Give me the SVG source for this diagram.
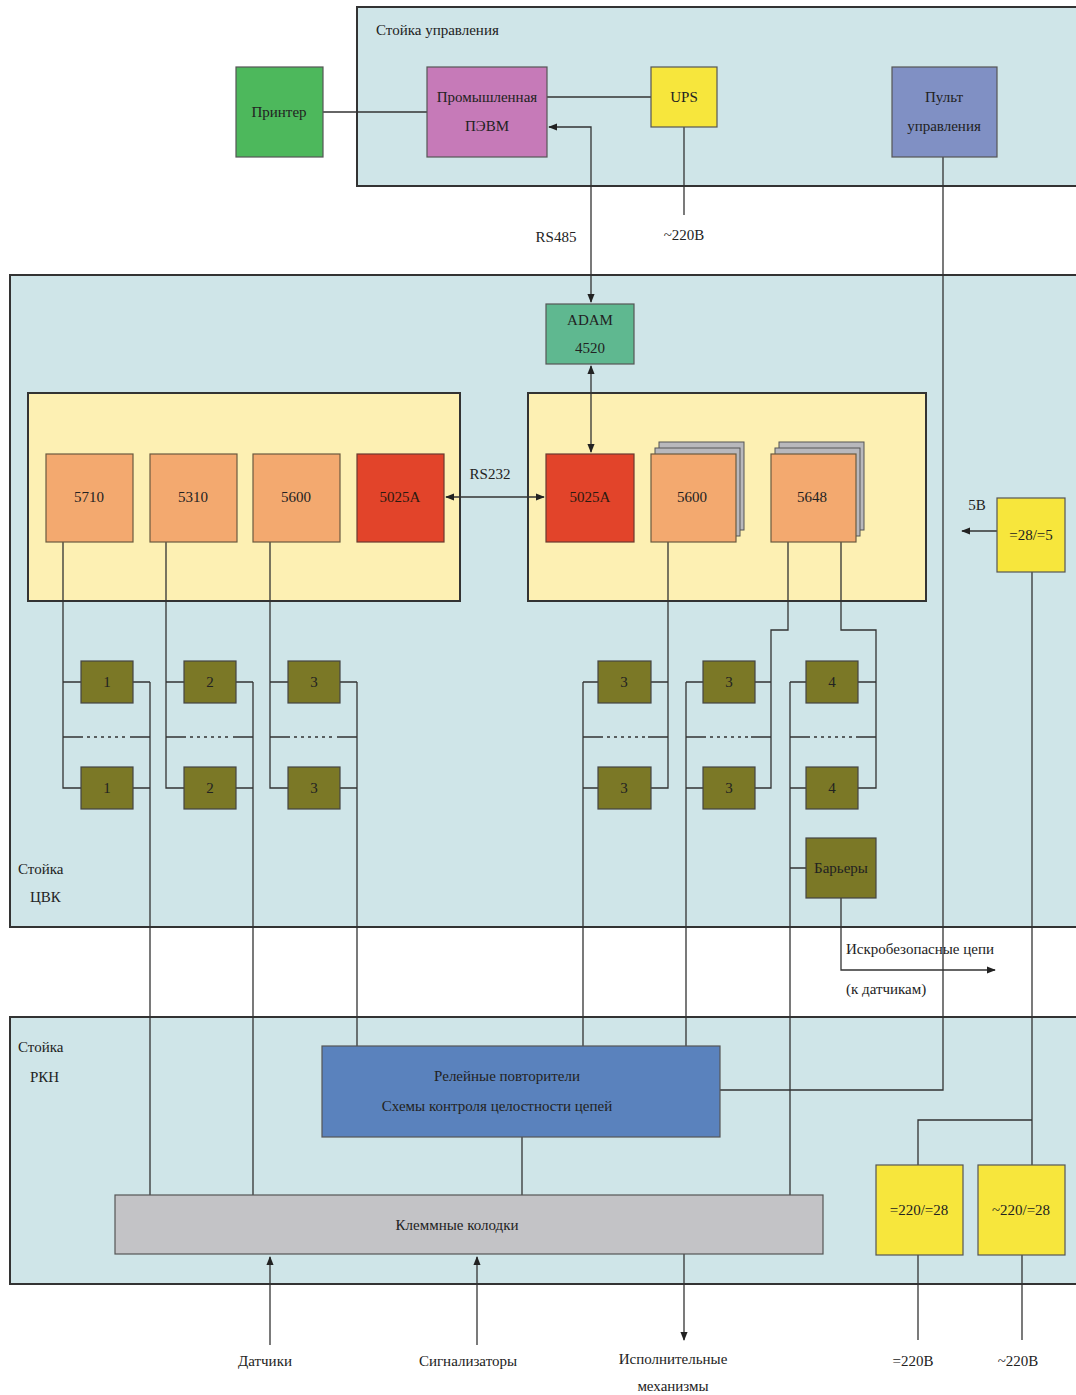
<svg xmlns="http://www.w3.org/2000/svg" width="1076" height="1395" viewBox="0 0 1076 1395">
<defs>
<style>
.panel{fill:#cfe5e8;stroke:#333;stroke-width:2}
.yb{fill:#fdf0b3;stroke:#333;stroke-width:2}
.box{stroke:#555;stroke-width:1.2}
.mod{fill:#f3a96f;stroke:#6b5a40;stroke-width:1.2}
.red{fill:#e2442a;stroke:#6b3a30;stroke-width:1.2}
.ol{fill:#7b7826;stroke:#444;stroke-width:1.2}
.pw{fill:#f7e63c;stroke:#555;stroke-width:1.2}
.sh{fill:#b8b8bc;stroke:#555;stroke-width:1}
.ln{fill:none;stroke:#333;stroke-width:1.3}
.dot{fill:none;stroke:#333;stroke-width:1.3;stroke-dasharray:3 4}
text{font-family:"Liberation Serif","DejaVu Serif",serif;font-size:15px;fill:#222;text-anchor:middle}
.lt{text-anchor:start}
.dk{fill:#2a1a10}
</style>
<marker id="ah" viewBox="0 0 10 10" refX="9" refY="5" markerWidth="9" markerHeight="9" orient="auto-start-reverse" markerUnits="userSpaceOnUse">
<path d="M0,1 L10,5 L0,9 z" fill="#222"/>
</marker>
</defs>

<g id="panel-upr">
<rect class="panel" x="357" y="7" width="725" height="179"/>
<text class="lt" x="376" y="35">Стойка управления</text>
</g>
<g id="panel-cvk">
<rect class="panel" x="10" y="275" width="1072" height="652"/>
<text class="lt" x="18" y="874">Стойка</text>
<text class="lt" x="30" y="902">ЦВК</text>
</g>
<g id="panel-rkn">
<rect class="panel" x="10" y="1017" width="1072" height="267"/>
<text class="lt" x="18" y="1052">Стойка</text>
<text class="lt" x="30" y="1082">РКН</text>
</g>

<g id="rack-left"><rect class="yb" x="28" y="393" width="432" height="208"/></g>
<g id="rack-right"><rect class="yb" x="528" y="393" width="398" height="208"/></g>

<g id="connectors">
<path class="ln" d="M323,112 H427"/>
<path class="ln" d="M547,97 H651"/>
<path class="ln" d="M684,127 V215"/>
<path class="ln" d="M549,127 H591 V302" marker-start="url(#ah)" marker-end="url(#ah)"/>
<path class="ln" d="M591,366 V452" marker-start="url(#ah)" marker-end="url(#ah)"/>
<path class="ln" d="M446,497 H544" marker-start="url(#ah)" marker-end="url(#ah)"/>
<path class="ln" d="M943,157 V1090 H720"/>
<path class="ln" d="M997,531 H962" marker-end="url(#ah)"/>
<path class="ln" d="M1032,572 V1165"/>
<path class="ln" d="M1032,1120 H918 V1165"/>
<path class="ln" d="M918,1255 V1340"/>
<path class="ln" d="M1022,1255 V1340"/>
<!-- left columns -->
<path class="ln" d="M63,542 V788 H81 M63,682 H81 M133,682 H150 M133,788 H150 M150,682 V1195 M63,737 H83 M130,737 H150"/>
<path class="dot" d="M87,737 H128"/>
<path class="ln" d="M166,542 V788 H184 M166,682 H184 M236,682 H253 M236,788 H253 M253,682 V1195 M166,737 H186 M233,737 H253"/>
<path class="dot" d="M190,737 H231"/>
<path class="ln" d="M270,542 V788 H288 M270,682 H288 M340,682 H357 M340,788 H357 M357,682 V1046 M270,737 H290 M337,737 H357"/>
<path class="dot" d="M294,737 H335"/>
<!-- right columns -->
<path class="ln" d="M668,542 V788 H651 M668,682 H651 M598,682 H583 M598,788 H583 M583,682 V1046 M583,737 H603 M648,737 H668"/>
<path class="dot" d="M607,737 H646"/>
<path class="ln" d="M788,542 V630 H771 V788 H755 M771,682 H755 M703,682 H686 M703,788 H686 M686,682 V1046 M686,737 H706 M751,737 H771"/>
<path class="dot" d="M710,737 H749"/>
<path class="ln" d="M841,542 V630 H876 V788 H858 M876,682 H858 M806,682 H790 M806,788 H790 M790,682 V1195 M790,868 H806 M790,737 H810 M856,737 H876"/>
<path class="dot" d="M814,737 H854"/>
<path class="ln" d="M841,898 V970 H995" marker-end="url(#ah)"/>
<!-- bottom -->
<path class="ln" d="M522,1137 V1195"/>
<path class="ln" d="M270,1345 V1257" marker-end="url(#ah)"/>
<path class="ln" d="M477,1345 V1257" marker-end="url(#ah)"/>
<path class="ln" d="M684,1254 V1340" marker-end="url(#ah)"/>
</g>

<g id="printer"><rect class="box" x="236" y="67" width="87" height="90" fill="#4db85c"/><text x="279" y="117">Принтер</text></g>
<g id="pevm"><rect class="box" x="427" y="67" width="120" height="90" fill="#c67ab8"/><text x="487" y="102">Промышленная</text><text x="487" y="131">ПЭВМ</text></g>
<g id="ups"><rect class="box" x="651" y="67" width="66" height="60" fill="#f7e63c"/><text x="684" y="102">UPS</text></g>
<g id="pult"><rect class="box" x="892" y="67" width="105" height="90" fill="#8090c4"/><text x="944" y="102">Пульт</text><text x="944" y="131">управления</text></g>
<text x="684" y="240">~220В</text>
<text x="556" y="242">RS485</text>

<g id="adam"><rect class="box" x="546" y="304" width="88" height="60" fill="#5fb890"/><text x="590" y="325">ADAM</text><text x="590" y="353">4520</text></g>

<g id="m5710"><rect class="mod" x="46" y="454" width="87" height="88"/><text x="89" y="502">5710</text></g>
<g id="m5310"><rect class="mod" x="150" y="454" width="87" height="88"/><text x="193" y="502">5310</text></g>
<g id="m5600a"><rect class="mod" x="253" y="454" width="87" height="88"/><text x="296" y="502">5600</text></g>
<g id="m5025a"><rect class="red" x="357" y="454" width="87" height="88"/><text class="dk" x="400" y="502">5025A</text></g>
<text x="490" y="479">RS232</text>
<g id="m5025b"><rect class="red" x="546" y="454" width="88" height="88"/><text class="dk" x="590" y="502">5025A</text></g>
<g id="m5600b"><rect class="sh" x="659" y="442" width="85" height="88"/><rect class="sh" x="655" y="448" width="85" height="88"/><rect class="mod" x="651" y="454" width="85" height="88"/><text x="692" y="502">5600</text></g>
<g id="m5648"><rect class="sh" x="779" y="442" width="85" height="88"/><rect class="sh" x="775" y="448" width="85" height="88"/><rect class="mod" x="771" y="454" width="85" height="88"/><text x="812" y="502">5648</text></g>

<g id="pw285"><rect class="pw" x="997" y="498" width="68" height="74"/><text x="1031" y="540">=28/=5</text></g>
<text x="977" y="510">5В</text>

<g id="o1a"><rect class="ol" x="81" y="661" width="52" height="42"/><text x="107" y="687">1</text></g>
<g id="o1b"><rect class="ol" x="81" y="767" width="52" height="42"/><text x="107" y="793">1</text></g>
<g id="o2a"><rect class="ol" x="184" y="661" width="52" height="42"/><text x="210" y="687">2</text></g>
<g id="o2b"><rect class="ol" x="184" y="767" width="52" height="42"/><text x="210" y="793">2</text></g>
<g id="o3a"><rect class="ol" x="288" y="661" width="52" height="42"/><text x="314" y="687">3</text></g>
<g id="o3b"><rect class="ol" x="288" y="767" width="52" height="42"/><text x="314" y="793">3</text></g>
<g id="o4a"><rect class="ol" x="598" y="661" width="53" height="42"/><text x="624" y="687">3</text></g>
<g id="o4b"><rect class="ol" x="598" y="767" width="53" height="42"/><text x="624" y="793">3</text></g>
<g id="o5a"><rect class="ol" x="703" y="661" width="52" height="42"/><text x="729" y="687">3</text></g>
<g id="o5b"><rect class="ol" x="703" y="767" width="52" height="42"/><text x="729" y="793">3</text></g>
<g id="o6a"><rect class="ol" x="806" y="661" width="52" height="42"/><text x="832" y="687">4</text></g>
<g id="o6b"><rect class="ol" x="806" y="767" width="52" height="42"/><text x="832" y="793">4</text></g>
<g id="barrier"><rect class="ol" x="806" y="838" width="70" height="60"/><text x="841" y="873">Барьеры</text></g>
<text class="lt" x="846" y="954">Искробезопасные цепи</text>
<text class="lt" x="846" y="994">(к датчикам)</text>

<g id="relay"><rect class="box" x="322" y="1046" width="398" height="91" fill="#5a82bd"/><text x="507" y="1081">Релейные повторители</text><text x="497" y="1111">Схемы контроля целостности цепей</text></g>
<g id="klem"><rect class="box" x="115" y="1195" width="708" height="59" fill="#c3c3c6"/><text x="457" y="1230">Клеммные колодки</text></g>
<g id="pw220a"><rect class="pw" x="876" y="1165" width="87" height="90"/><text x="919" y="1215">=220/=28</text></g>
<g id="pw220b"><rect class="pw" x="978" y="1165" width="87" height="90"/><text x="1021" y="1215">~220/=28</text></g>

<text x="265" y="1366">Датчики</text>
<text x="468" y="1366">Сигнализаторы</text>
<text x="673" y="1364">Исполнительные</text>
<text x="673" y="1391">механизмы</text>
<text x="913" y="1366">=220В</text>
<text x="1018" y="1366">~220В</text>
</svg>
